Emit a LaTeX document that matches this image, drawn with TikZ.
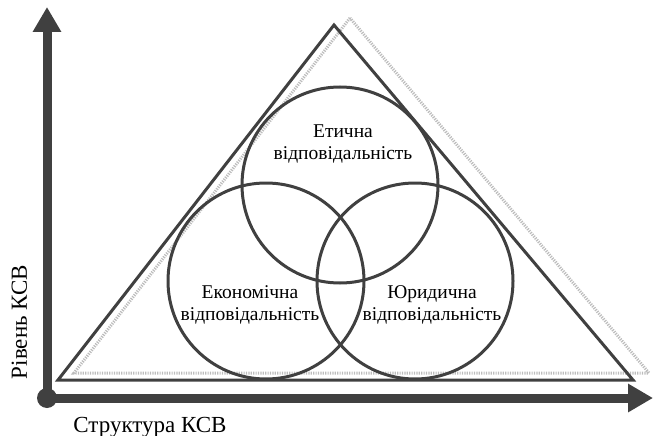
\documentclass[tikz,border=0pt]{standalone}
\usepackage{fontspec}
\setmainfont{Liberation Serif}
\usetikzlibrary{arrows.meta}
\definecolor{ink}{HTML}{404040}
\definecolor{shadowgray}{HTML}{BCBCBC}
\begin{document}
\begin{tikzpicture}[x=1pt,y=-1pt,
  ring/.style={circle,draw=ink,line width=3pt,minimum size=196pt,inner sep=0pt},
  intext/.style={align=center,font=\rmfamily\fontsize{19.5}{22.5}\selectfont,inner sep=0pt},
  axtext/.style={font=\rmfamily\fontsize{23}{27}\selectfont,inner sep=0pt},
  axis/.style={draw=ink,line width=9pt,-{Triangle[length=25pt,width=27pt]}}]
\useasboundingbox (0,0) rectangle (653,436);
% shadow triangle
\coordinate (sa) at (350,18);
\coordinate (sl) at (74,373);
\coordinate (sr) at (649,373);
\draw[draw=shadowgray,line width=3pt,dash pattern=on 1.2pt off 1.2pt] (sa) -- (sl) -- (sr) -- cycle;
% main triangle
\coordinate (ta) at (334,25);
\coordinate (tl) at (58,380);
\coordinate (tr) at (633,380);
\draw[draw=ink,line width=3pt] (ta) -- (tl) -- (tr) -- cycle;
% circles
\node[ring] (ctop) at (340,185) {};
\node[ring] (cleft) at (266,281) {};
\node[ring] (cright) at (415,281) {};
% texts
\node[intext] (ttop) at (343,144) {Етична\\відповідальність};
\node[intext] (tleft) at (250,305) {Економічна\\відповідальність};
\node[intext] (tright) at (432,305) {Юридична\\відповідальність};
% axes
\coordinate (o) at (47,398);
\coordinate (ytip) at (47,7);
\coordinate (xtip) at (653,398);
\draw[axis] (o) -- (ytip);
\draw[axis] (o) -- (xtip);
\fill[ink] (o) circle (10pt);
\node[axtext,rotate=90,anchor=base] (ylab) at (27,322) {Рівень КСВ};
\node[axtext,anchor=base] (xlab) at (150,432) {Структура КСВ};
\end{tikzpicture}
\end{document}
